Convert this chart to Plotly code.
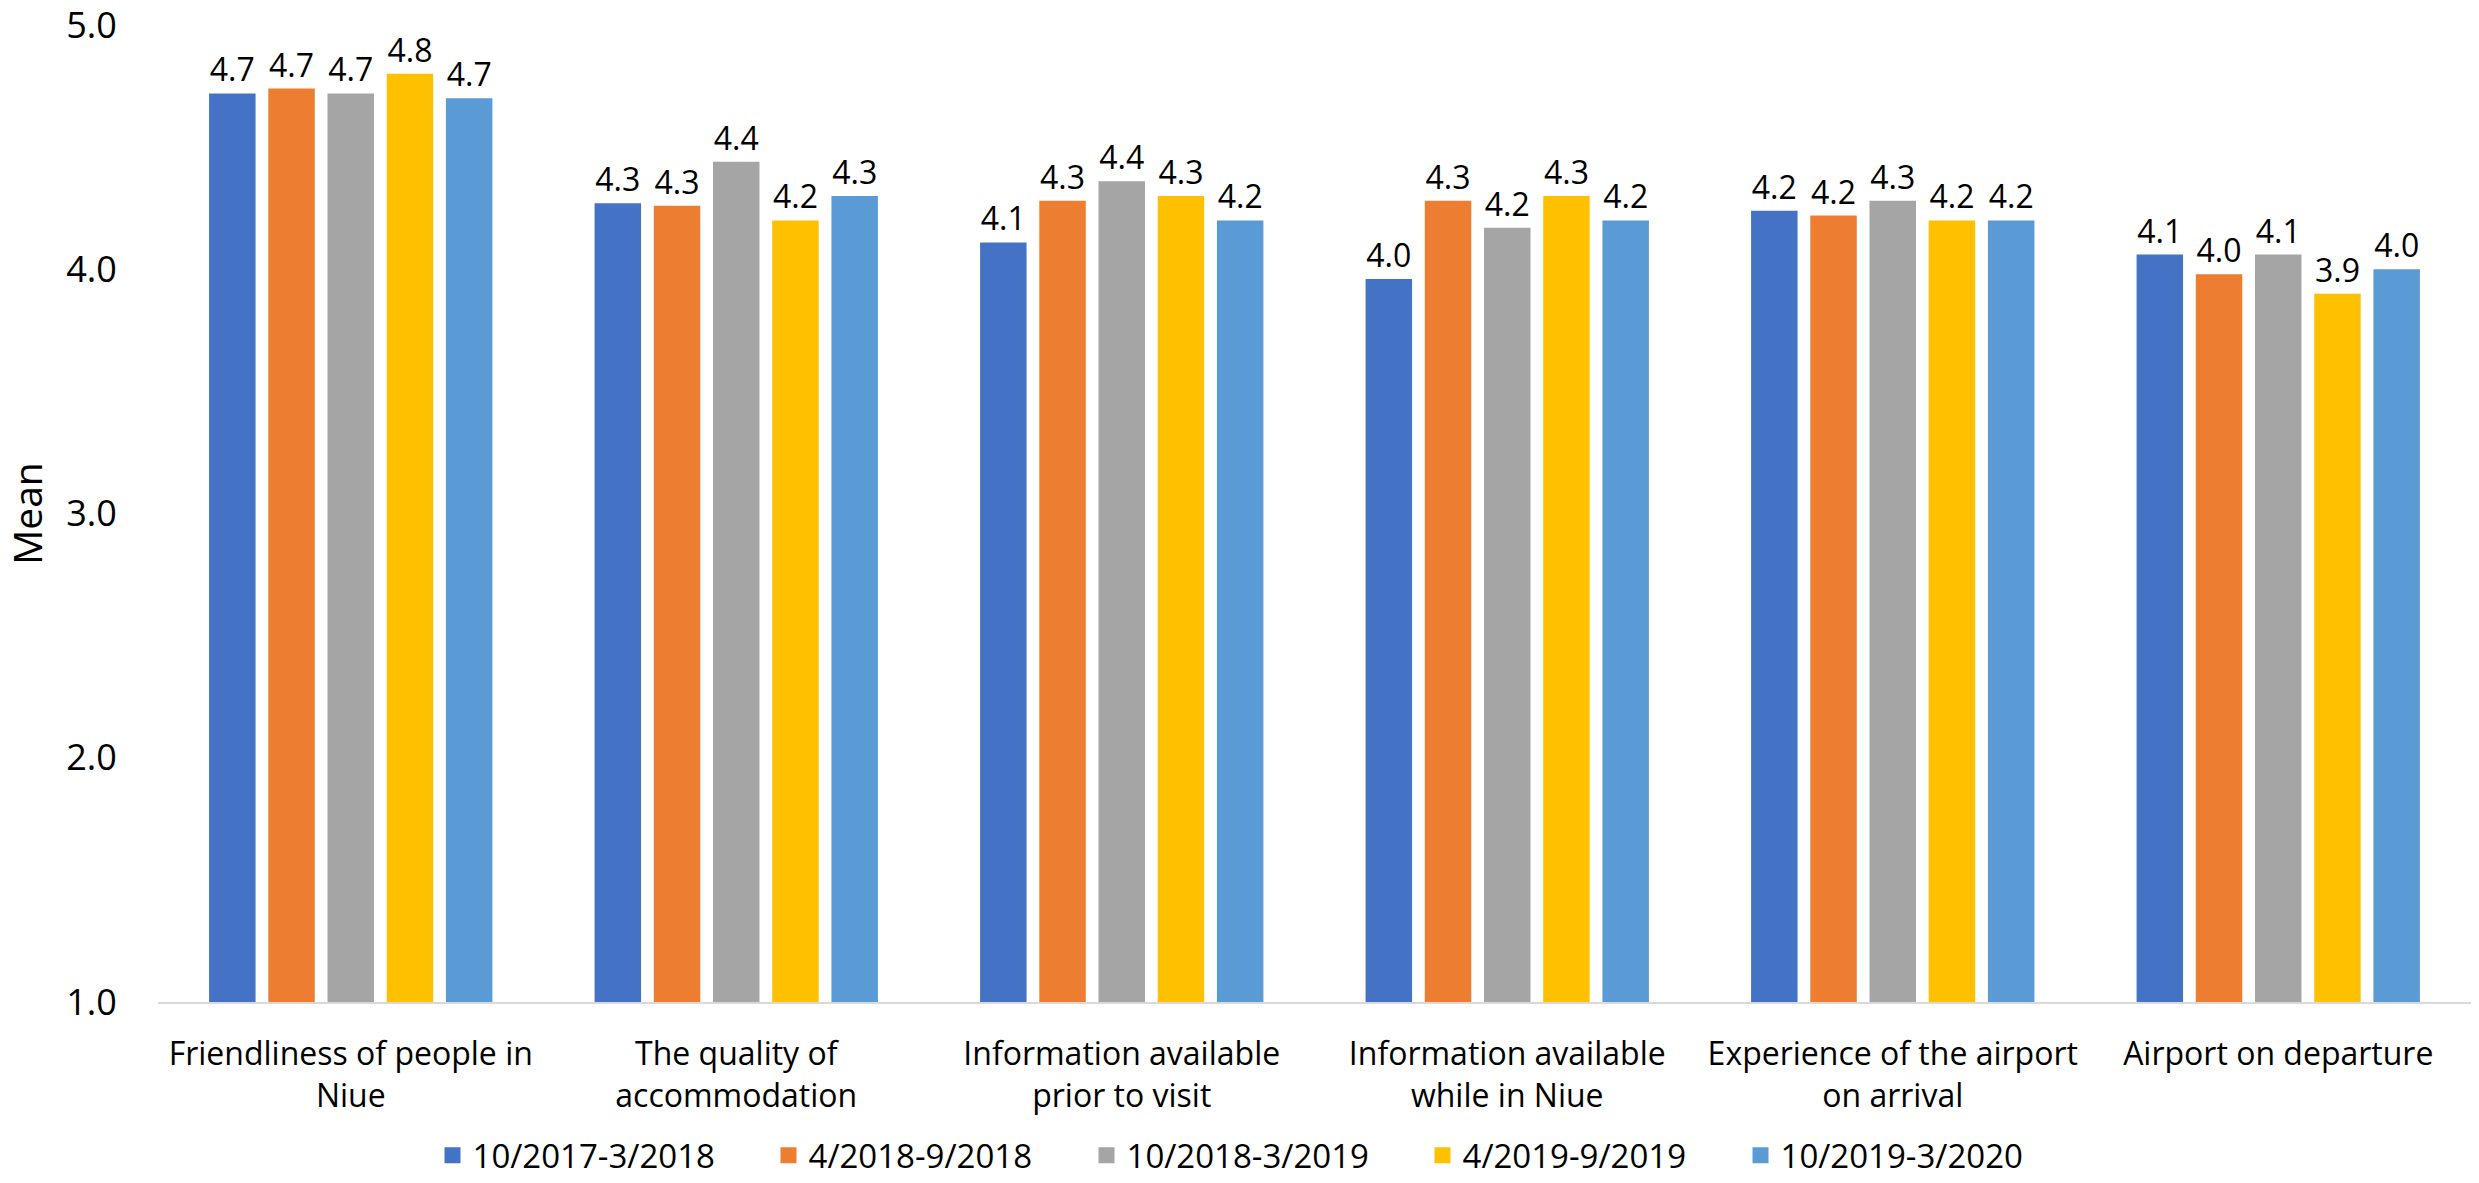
import plotly.graph_objects as go

categories = [
    "Friendliness of people in<br>Niue",
    "The quality of<br>accommodation",
    "Information available<br>prior to visit",
    "Information available<br>while in Niue",
    "Experience of the airport<br>on arrival",
    "Airport on departure",
]
series_names = ["10/2017-3/2018", "4/2018-9/2018", "10/2018-3/2019", "4/2019-9/2019", "10/2019-3/2020"]
s1 = [4.72, 4.27, 4.11, 3.96, 4.24, 4.06]
s2 = [4.74, 4.26, 4.28, 4.28, 4.22, 3.98]
s3 = [4.72, 4.44, 4.36, 4.17, 4.28, 4.06]
s4 = [4.80, 4.20, 4.30, 4.30, 4.20, 3.90]
s5 = [4.70, 4.30, 4.20, 4.20, 4.20, 4.00]
series_values = [s1, s2, s3, s4, s5]
colors = ["#4472C4", "#ED7D31", "#A5A5A5", "#FFC000", "#5B9BD5"]
legend_entry_widths = [291, 273, 291, 273, 250]
y_ticks = [1.0, 2.0, 3.0, 4.0, 5.0]

FONT = "Open Sans, Noto Sans, sans-serif"

fig = go.Figure()
for name, vals, col in zip(series_names, series_values, colors):
    fig.add_trace(go.Bar(
        x=categories, y=vals, name=name, showlegend=False,
        marker=dict(color=col, line=dict(width=0)),
        text=vals, texttemplate="%{y:.1f}", textposition="outside",
        textfont=dict(size=32, color="#000000", family=FONT),
        cliponaxis=False,
    ))
# legend entries (square swatches)
for name, col, lw in zip(series_names, colors, legend_entry_widths):
    fig.add_trace(go.Scatter(
        x=[None], y=[None], mode="markers", name=name, legendwidth=lw,
        marker=dict(symbol="square", size=21, color=col),
    ))

fig.update_layout(
    width=2479, height=1183,
    paper_bgcolor="white", plot_bgcolor="white",
    margin=dict(l=158, r=8, t=25, b=181, autoexpand=False),
    barmode="group", bargap=0.232, bargroupgap=0.215,
    font=dict(family=FONT, size=32, color="#000000"),
    showlegend=True,
    legend=dict(orientation="h", x=0.4652, xanchor="center", y=-0.157, yanchor="middle",
                font=dict(size=33, family=FONT), itemsizing="trace"),
    yaxis=dict(range=[1, 5], tickvals=y_ticks, tickformat=".1f", showgrid=False,
               zeroline=False, showline=False, ticks="outside", ticklen=33,
               tickcolor="rgba(0,0,0,0)", tickfont=dict(size=36),
               ticklabeloverflow="allow",
               title=dict(text="Mean", font=dict(size=39), standoff=20)),
    xaxis=dict(showline=True, linecolor="#D9D9D9", linewidth=2, ticks="outside",
               ticklen=23, tickcolor="rgba(0,0,0,0)",
               tickfont=dict(size=32), showgrid=False),
)

fig.write_html("out.html")
